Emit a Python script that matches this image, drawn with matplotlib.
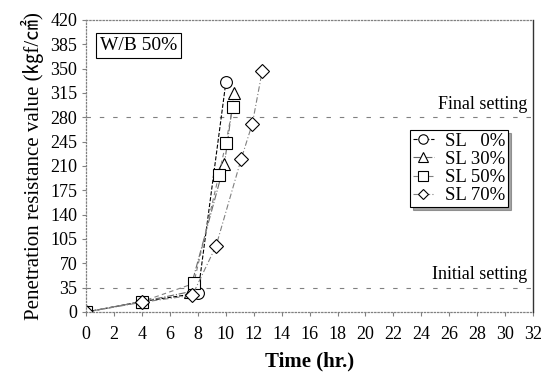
import matplotlib.pyplot as plt
import numpy as np

plt.rcParams['font.family'] = ['Liberation Serif', 'Noto Sans CJK JP']

# data
x_sl0 = [0, 4, 8.0, 10.0]
y_sl0 = [0, 15, 27, 330]
x_sl30 = [0, 4, 7.4, 9.9, 10.6]
y_sl30 = [0, 15, 29, 213, 315]
x_sl50 = [0, 4, 7.7, 9.5, 10.0, 10.5]
y_sl50 = [0, 15, 41, 197, 243, 295]
x_sl70 = [0, 4, 7.6, 9.3, 11.1, 11.9, 12.6]
y_sl70 = [0, 14, 24, 95, 220, 271, 346]

labels = ["SL   0%", "SL 30%", "SL 50%", "SL 70%"]
initial_set = 35
final_set = 280

fig = plt.figure(figsize=(5.49, 3.75), dpi=100)
ax = fig.add_axes([0.157, 0.168, 0.814, 0.779])

ax.axhline(final_set, color='gray', lw=0.8, ls=(0, (4, 8)), zorder=1)
ax.axhline(initial_set, color='gray', lw=0.8, ls=(0, (4, 8)), zorder=1)

ax.plot(x_sl0, y_sl0, color='black', lw=0.8, ls='--', marker='o', ms=8.5,
        mfc='white', mec='black', mew=0.8, label=labels[0])
ax.plot(x_sl30, y_sl30, color='dimgray', lw=0.8, ls='-.', marker='^', ms=9,
        mfc='white', mec='black', mew=0.8, label=labels[1])
ax.plot(x_sl50, y_sl50, color='gray', lw=0.8, ls=(0, (4, 3)), marker='s', ms=8.5,
        mfc='white', mec='black', mew=0.8, label=labels[2])
ax.plot(x_sl70, y_sl70, color='gray', lw=0.8, ls=(0, (5, 2, 1, 2)), marker='D', ms=7,
        mfc='white', mec='black', mew=0.8, label=labels[3])

ax.set_xlim(0, 32)
ax.set_ylim(0, 420)
ax.set_xticks(np.arange(0, 33, 2))
ax.set_yticks(np.arange(0, 421, 35))
ax.tick_params(labelsize=13, length=3, color='gray')
ax.tick_params(axis='x', pad=7)

for s in ['left', 'bottom', 'top']:
    ax.spines[s].set_color('gray')
    ax.spines[s].set_linestyle(':')
    ax.spines[s].set_linewidth(0.9)
ax.spines['right'].set_color('#333333')
ax.spines['right'].set_linewidth(1.0)

ax.set_xlabel("Time (hr.)", fontsize=15, fontweight='bold', labelpad=6)
ax.set_ylabel("Penetration resistance value (㎏f/㎠)", fontsize=15, labelpad=4)

ax.text(31.6, final_set + 6, "Final setting", ha='right', va='bottom', fontsize=13)
ax.text(31.6, initial_set + 6, "Initial setting", ha='right', va='bottom', fontsize=13)

ax.text(1.0, 383, "W/B 50%", ha='left', va='center', fontsize=14,
        bbox=dict(boxstyle='square,pad=0.2', fc='white', ec='black', lw=0.8))

leg = ax.legend(loc='upper right', bbox_to_anchor=(0.965, 0.655), fontsize=13.5,
                frameon=True, fancybox=False, shadow=True, edgecolor='black',
                handlelength=1.1, handletextpad=0.6, borderpad=0.15,
                labelspacing=0.05, markerscale=0.8)
leg.get_frame().set_linewidth(0.8)

fig.savefig("out.png", dpi=100)
